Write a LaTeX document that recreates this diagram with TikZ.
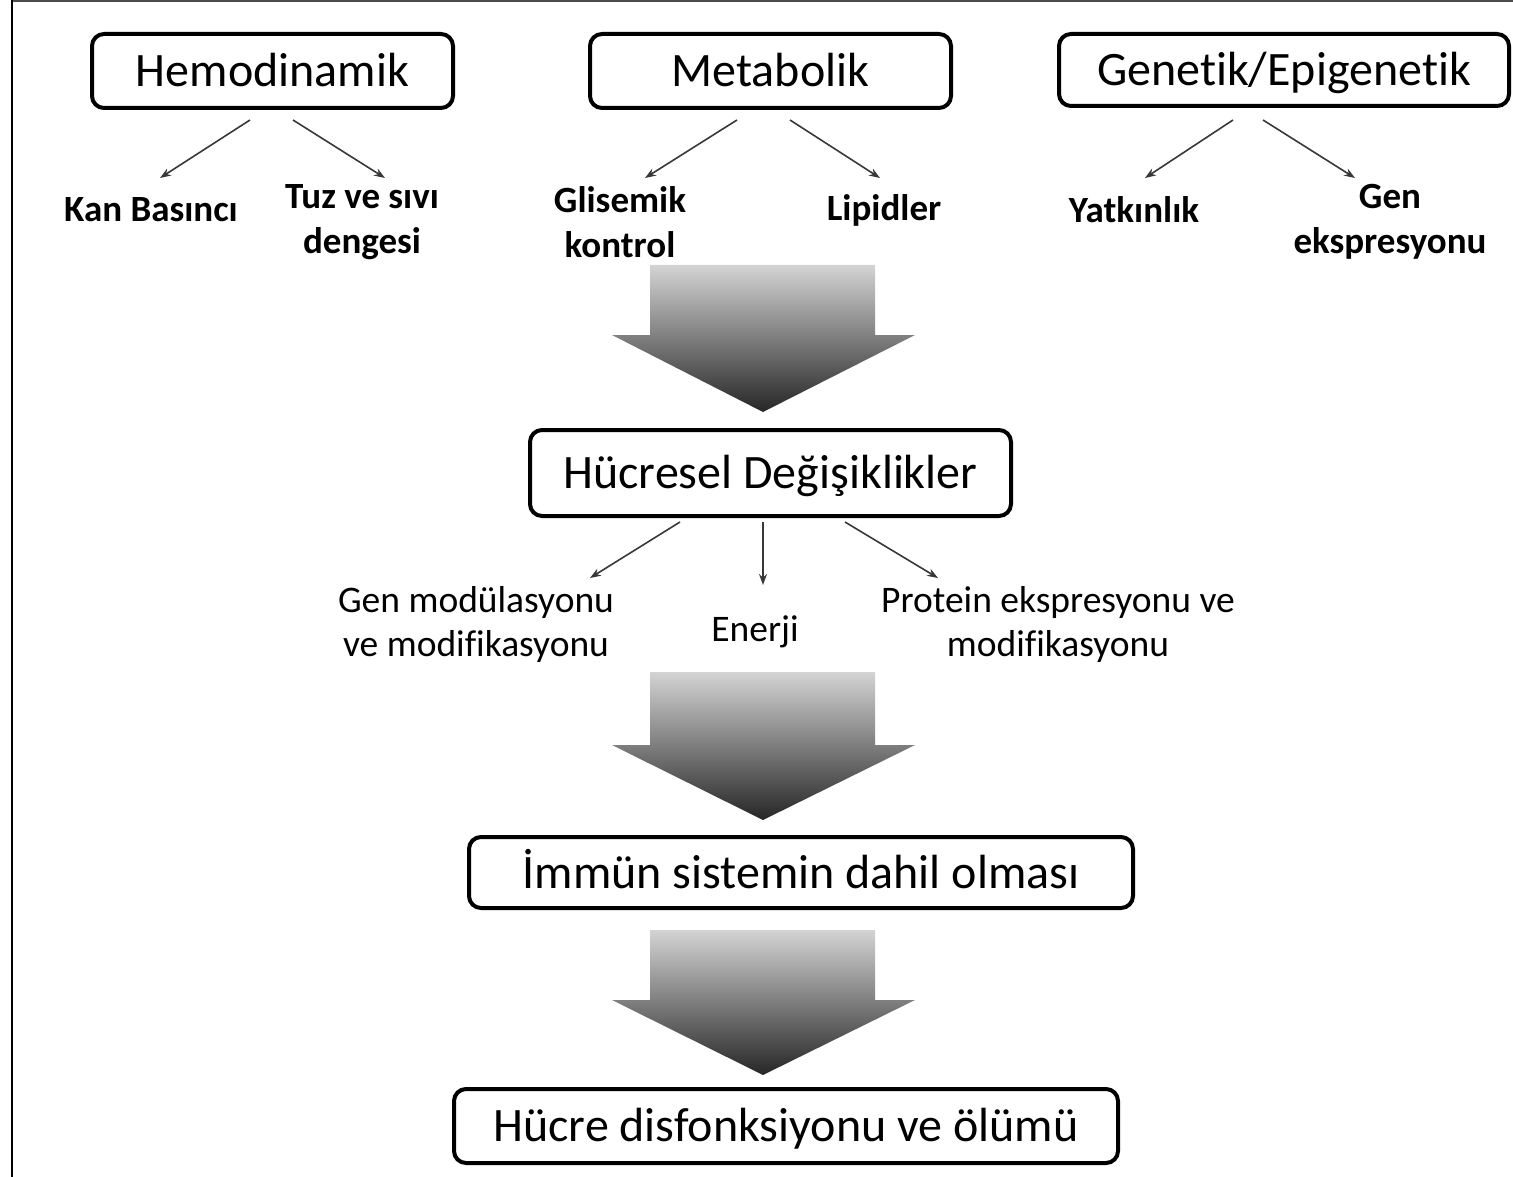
\documentclass[tikz,border=0pt]{standalone}
\usepackage{fontspec}
\setmainfont{Carlito}[RawFeature={-liga;-clig;-dlig}]
\usetikzlibrary{arrows.meta}
\begin{document}
\begin{tikzpicture}[x=1pt,y=-1pt,
  box/.style={draw=black, line width=4pt, rounded corners=12pt, inner sep=0pt,
    text height=31pt, text depth=0pt, font=\fontsize{48}{56}\selectfont},
  lbl/.style={font=\fontsize{37}{45}\selectfont\bfseries, align=center, inner sep=0pt},
  sub/.style={font=\fontsize{37.5}{44}\selectfont, align=center, inner sep=0pt},
  link/.style={draw=black!78, line width=1.6pt, -{Stealth[length=11pt,width=8pt]}},
  bigarrow/.style={top color=black!17, bottom color=black!85, draw=none}
]
\useasboundingbox (0,0) rectangle (1513,1177);
% frame: top and left rules
\draw[black!70, line width=1.6pt] (12,1) -- (1513,1);
\draw[black, line width=2.4pt] (12,0) -- (12,1177);

% broad shaded arrows between the stages
\newcommand{\stagearrow}[3]{%
  \shade[bigarrow] (650,#1) -- (875,#1) -- (875,#2) -- (915,#2) -- (763,#3)
    -- (612,#2) -- (650,#2) -- cycle;}
\stagearrow{265}{335}{412}
\stagearrow{672}{745}{820}
\stagearrow{930}{1000}{1075}

% top-level factors
\node[box, minimum width=361pt, minimum height=74pt] (hemo) at (272.5,71) {Hemodinamik};
\node[box, minimum width=361pt, minimum height=74pt] (meta) at (770.5,71) {Metabolik};
\node[box, minimum width=450pt, minimum height=72pt] (gene) at (1284,70) {Genetik/Epigenetik};

% sub-factors
\node[lbl] (kan)   at (151,210) {Kan Basıncı};
\node[lbl] (tuz)   at (362,222) {Tuz ve sıvı\\dengesi};
\node[lbl] (glis)  at (620,222) {Glisemik\\kontrol};
\node[lbl] (lip)   at (884,210) {Lipidler};
\node[lbl] (yat)   at (1134,210) {Yatkınlık};
\node[lbl] (genex) at (1390,222) {Gen\\ekspresyonu};

% connectors from factors to sub-factors
\coordinate (hemoL) at (250,120);  \coordinate (kanT)   at (160,178);
\coordinate (hemoR) at (293,120);  \coordinate (tuzT)   at (385,178);
\coordinate (metaL) at (737,120);  \coordinate (glisT)  at (645,178);
\coordinate (metaR) at (790,120);  \coordinate (lipT)   at (880,178);
\coordinate (geneL) at (1233,120); \coordinate (yatT)   at (1145,178);
\coordinate (geneR) at (1263,120); \coordinate (genexT) at (1355,178);
\draw[link] (hemoL) -- (kanT);
\draw[link] (hemoR) -- (tuzT);
\draw[link] (metaL) -- (glisT);
\draw[link] (metaR) -- (lipT);
\draw[link] (geneL) -- (yatT);
\draw[link] (geneR) -- (genexT);

% cellular changes
\node[box, minimum width=481pt, minimum height=86pt] (cell) at (770.5,473) {Hücresel Değişiklikler};
\node[sub] (genmod) at (476,624) {Gen modülasyonu\\ve modifikasyonu};
\node[sub] (ener)   at (755,632) {Enerji};
\node[sub] (prot)   at (1058,624) {Protein ekspresyonu ve\\modifikasyonu};
\coordinate (cellL) at (680,522); \coordinate (genmodT) at (590,578);
\coordinate (cellM) at (763,522); \coordinate (enerT)   at (763,585);
\coordinate (cellR) at (845,522); \coordinate (protT)   at (938,578);
\draw[link] (cellL) -- (genmodT);
\draw[link] (cellM) -- (enerT);
\draw[link] (cellR) -- (protT);

% downstream stages
\node[box, minimum width=664pt, minimum height=71pt] (immun) at (801,872.5) {İmmün sistemin dahil olması};
\node[box, minimum width=664pt, minimum height=74pt] (death) at (786,1126) {Hücre disfonksiyonu ve ölümü};
\end{tikzpicture}
\end{document}
